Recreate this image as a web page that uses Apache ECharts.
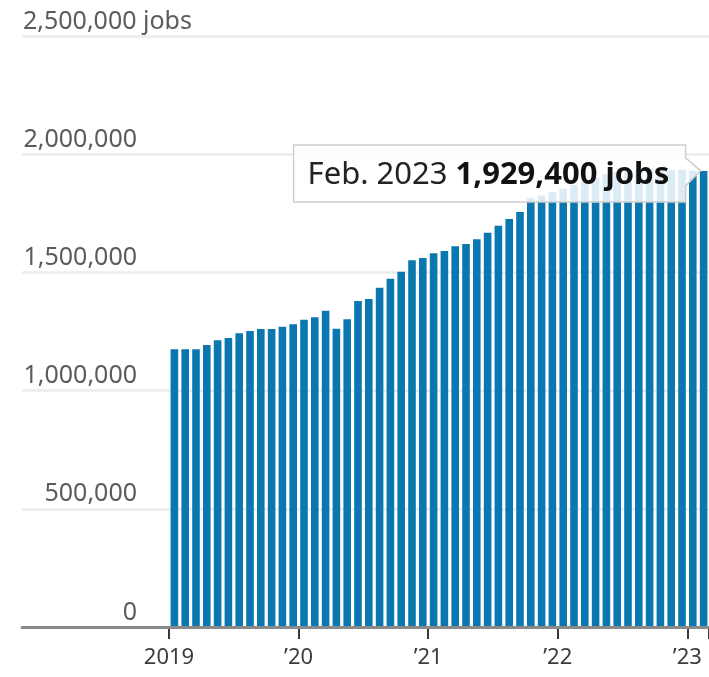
<!DOCTYPE html>
<html>
<head>
<meta charset="utf-8">
<script src="https://cdn.jsdelivr.net/npm/echarts@6/dist/echarts.min.js"></script>
<style>
  html, body { margin: 0; padding: 0; background: #fff; }
  #chart { width: 709px; height: 677px; }
</style>
</head>
<body>
<div id="chart"></div>
<script>
// ---- data ----
const categories = [
  'Jan. 2019','Feb. 2019','Mar. 2019','Apr. 2019','May 2019','June 2019','July 2019','Aug. 2019','Sept. 2019','Oct. 2019','Nov. 2019','Dec. 2019',
  'Jan. 2020','Feb. 2020','Mar. 2020','Apr. 2020','May 2020','June 2020','July 2020','Aug. 2020','Sept. 2020','Oct. 2020','Nov. 2020','Dec. 2020',
  'Jan. 2021','Feb. 2021','Mar. 2021','Apr. 2021','May 2021','June 2021','July 2021','Aug. 2021','Sept. 2021','Oct. 2021','Nov. 2021','Dec. 2021',
  'Jan. 2022','Feb. 2022','Mar. 2022','Apr. 2022','May 2022','June 2022','July 2022','Aug. 2022','Sept. 2022','Oct. 2022','Nov. 2022','Dec. 2022',
  'Jan. 2023','Feb. 2023'
];
const jobs = [
  1174700, 1175000, 1175000, 1192900, 1212700, 1222500, 1242200, 1252100, 1260600, 1260600, 1270400, 1280300,
  1300000, 1309900, 1338100, 1262000, 1301500, 1379000, 1387500, 1435400, 1473500, 1503100, 1551000, 1560900,
  1580600, 1590500, 1610200, 1620100, 1639900, 1668000, 1697000, 1725900, 1755500, 1815000, 1825000, 1840000,
  1855000, 1870000, 1885000, 1900000, 1915000, 1925000, 1930000, 1935000, 1938000, 1935000, 1932000, 1935000,
  1930000, 1929400
];
const yearLabels = ['2019', '\u201920', '\u201921', '\u201922', '\u201923'];
const yMin = 0, yMax = 2500000, yStep = 500000;
const yUnit = ' jobs';
const highlightIndex = 49;
const highlightLabel = 'Feb. 2023';

// ---- chart ----
const FONT = '"Noto Sans", "DejaVu Sans", sans-serif';
const chart = echarts.init(document.getElementById('chart'), null, { renderer: 'canvas' });
const fmt = v => v.toLocaleString('en-US');

const option = {
  animation: false,
  grid: [
    { left: 22, right: 0, top: 36, bottom: 50 },
    { left: 169, right: -2, top: 36, bottom: 50 }
  ],
  xAxis: [
    {
      gridIndex: 0, type: 'value', min: 0, max: 1, z: 3,
      axisLine: { show: true, lineStyle: { color: '#8a8a8a', width: 3 } },
      axisTick: { show: false }, axisLabel: { show: false }, splitLine: { show: false }
    },
    {
      gridIndex: 1, type: 'category', data: categories, boundaryGap: true,
      axisLine: { show: false },
      axisTick: { show: true, length: 12, interval: i => i % 12 === 0, lineStyle: { color: '#3a3a3a', width: 2 } },
      axisLabel: {
        show: true, interval: i => i % 12 === 0,
        formatter: (v, i) => (i % 12 === 0 ? yearLabels[i / 12] : ''),
        color: '#3c3c3c', fontFamily: FONT, fontSize: 22, margin: 20,
        padding: [0, 10.84, 0, 0]
      },
      splitLine: { show: false }
    }
  ],
  yAxis: [
    {
      gridIndex: 0, type: 'value', min: yMin, max: yMax, interval: yStep,
      axisLine: { show: false }, axisTick: { show: false },
      splitLine: { show: true, lineStyle: { color: '#ebebeb', width: 2.5 } },
      axisLabel: {
        show: true, align: 'left', verticalAlign: 'bottom', margin: -1,
        color: '#5c5c5c', fontFamily: FONT, fontSize: 25, padding: [0, 0, 2, 0],
        formatter: v => (v === yMax ? fmt(v) + yUnit : '{n|' + fmt(v) + '}'),
        rich: {
          n: { width: 114, align: 'right', color: '#5c5c5c', fontFamily: FONT, fontSize: 25 }
        }
      }
    },
    {
      gridIndex: 1, type: 'value', min: yMin, max: yMax, interval: yStep, show: false,
      splitLine: { show: false }
    }
  ],
  series: [
    {
      type: 'bar', xAxisIndex: 1, yAxisIndex: 1,
      data: jobs, barWidth: 7.6,
      itemStyle: { color: '#0a77b1' },
      silent: true
    },
    {
      type: 'custom', xAxisIndex: 1, yAxisIndex: 1, z: 10, silent: true,
      data: [[highlightIndex, jobs[highlightIndex]]],
      encode: { x: 0, y: 1 },
      renderItem: function (params, api) {
        const p = api.coord([api.value(0), api.value(1)]);
        const tx = p[0] - 3, ty = p[1];
        const L = tx - 407, R = tx - 15, T = ty - 26, B = ty + 31;
        return {
          type: 'group',
          children: [
            {
              type: 'polygon',
              shape: { points: [[L, T], [R, T], [R, ty - 13], [tx, ty], [R, ty + 15], [R, B], [L, B]] },
              style: { fill: 'rgba(255,255,255,0.86)', stroke: '#cdcdcd', lineWidth: 1.5 }
            },
            {
              type: 'text',
              x: L + 14, y: ty + 4,
              style: {
                text: '{a|' + highlightLabel + ' }{b|' + fmt(api.value(1)) + yUnit + '}',
                align: 'left', verticalAlign: 'middle',
                rich: {
                  a: { fontFamily: FONT, fontSize: 31, fill: '#222', fontWeight: 'normal' },
                  b: { fontFamily: FONT, fontSize: 31, fill: '#111', fontWeight: 'bold' }
                }
              }
            }
          ]
        };
      }
    }
  ]
};
chart.setOption(option);
</script>
</body>
</html>
